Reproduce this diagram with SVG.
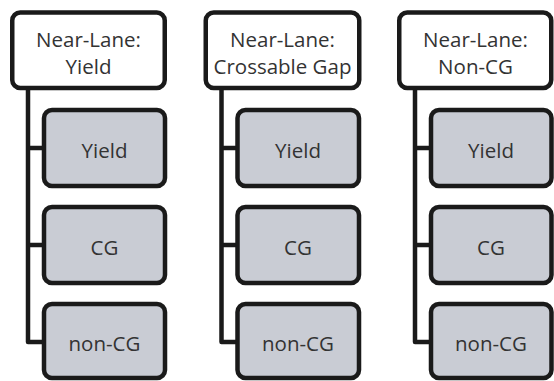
<svg xmlns="http://www.w3.org/2000/svg" width="554" height="381" viewBox="0 0 554 381">
<style>
.top{fill:#ffffff;stroke:#1a1a1a;stroke-width:4.5}
.child{fill:#c9ccd4;stroke:#1a1a1a;stroke-width:4.5}
.conn{fill:none;stroke:#1a1a1a;stroke-width:4.5;stroke-linejoin:round}
text{font-family:"Open Sans","Noto Sans",sans-serif;font-size:20.5px;fill:#333333;text-anchor:middle}
</style>
<rect width="554" height="381" fill="#ffffff"/>
<g id="connectors">
<path class="conn" d="M28 88 V342 H44 M28 148 H44 M28 245 H44"/>
<path class="conn" d="M221.5 88 V342 H237.5 M221.5 148 H237.5 M221.5 245 H237.5"/>
<path class="conn" d="M415 88 V342 H431 M415 148 H431 M415 245 H431"/>
</g>
<g id="top1"><rect class="top" x="12.25" y="12.5" width="152.5" height="75.5" rx="8"/><text x="88.5" y="46.5">Near-Lane:</text><text x="88.5" y="73.5">Yield</text></g>
<g id="c1a"><rect class="child" x="44" y="110" width="121" height="76" rx="8"/><text x="104.5" y="157.5">Yield</text></g>
<g id="c1b"><rect class="child" x="44" y="207" width="121" height="76" rx="8"/><text x="104.5" y="254.5">CG</text></g>
<g id="c1c"><rect class="child" x="44" y="304" width="121" height="74" rx="8"/><text x="104.5" y="350.5">non-CG</text></g>
<g id="top2"><rect class="top" x="205.75" y="12.5" width="153.5" height="75.5" rx="8"/><text x="282.5" y="46.5">Near-Lane:</text><text x="282.5" y="73.5">Crossable Gap</text></g>
<g id="c2a"><rect class="child" x="237.5" y="110" width="121.5" height="76" rx="8"/><text x="298" y="157.5">Yield</text></g>
<g id="c2b"><rect class="child" x="237.5" y="207" width="121.5" height="76" rx="8"/><text x="298" y="254.5">CG</text></g>
<g id="c2c"><rect class="child" x="237.5" y="304" width="121.5" height="74" rx="8"/><text x="298" y="350.5">non-CG</text></g>
<g id="top3"><rect class="top" x="399.25" y="12.5" width="152" height="75.5" rx="8"/><text x="475.5" y="46.5">Near-Lane:</text><text x="475.5" y="73.5">Non-CG</text></g>
<g id="c3a"><rect class="child" x="431" y="110" width="120.5" height="76" rx="8"/><text x="491" y="157.5">Yield</text></g>
<g id="c3b"><rect class="child" x="431" y="207" width="120.5" height="76" rx="8"/><text x="491" y="254.5">CG</text></g>
<g id="c3c"><rect class="child" x="431" y="304" width="120.5" height="74" rx="8"/><text x="491" y="350.5">non-CG</text></g>
</svg>
